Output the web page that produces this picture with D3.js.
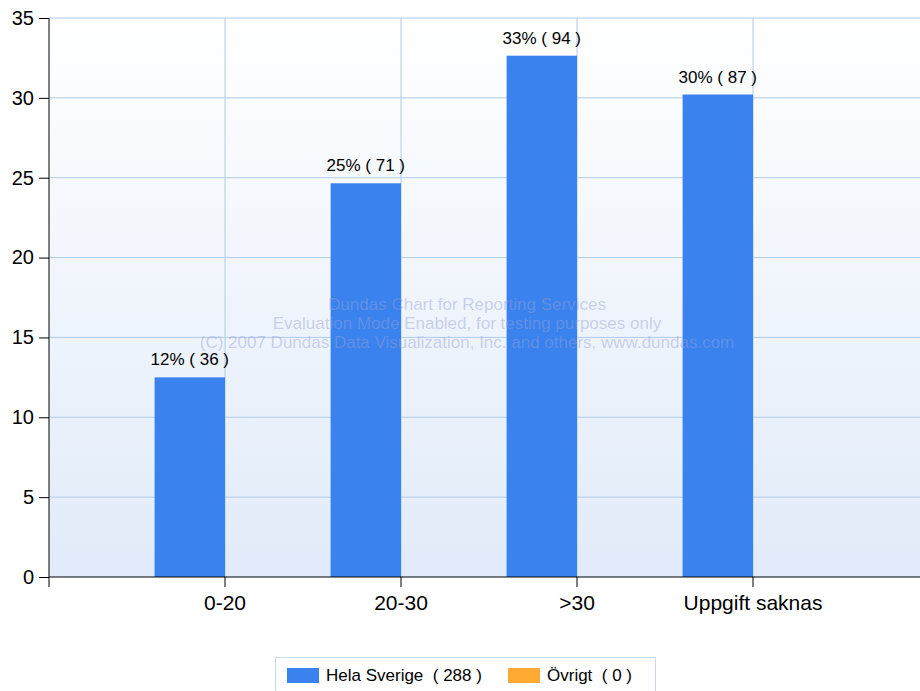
<!DOCTYPE html>
<html><head><meta charset="utf-8">
<script src="https://cdn.jsdelivr.net/npm/d3@7"></script>
<style>body{margin:0;background:#fff;font-family:Arial,"Liberation Sans",sans-serif}</style>
</head><body><svg id="c" width="920" height="691"></svg>
<script>
const categories = ["0-20","20-30",">30","Uppgift saknas"];
const counts = [36, 71, 94, 87];
const percents = [12.5, 24.65, 32.64, 30.21];
const otherValues = [0, 0, 0, 0];
const pctLabels = ["12%","25%","33%","30%"];
const yTicks = [0,5,10,15,20,25,30,35];
const legendItems = [{name:"Hela Sverige", total:288, color:"#3a82ee"},{name:"Övrigt", total:0, color:"#ffab33"}];

const svg = d3.select("#c");
const L=49, R=929, T=18, B=577;
const x = d3.scaleLinear().domain([0,5]).range([L,R]);
const y = d3.scaleLinear().domain([0,35]).range([B,T]);

const defs = svg.append("defs");
const g = defs.append("linearGradient").attr("id","bg").attr("x1",0).attr("y1",0).attr("x2",0).attr("y2",1);
g.append("stop").attr("offset","0%").attr("stop-color","#ffffff");
g.append("stop").attr("offset","100%").attr("stop-color","#e1ebf9");
defs.append("clipPath").attr("id","clip").append("rect").attr("x",L).attr("y",T-1).attr("width",920-L).attr("height",B-T+2);

svg.append("rect").attr("x",L).attr("y",T).attr("width",920-L).attr("height",B-T).attr("fill","url(#bg)");

const grid = svg.append("g").attr("clip-path","url(#clip)");
grid.selectAll("line.h").data(yTicks.filter(d=>d>0)).join("line")
  .attr("x1",L).attr("x2",920).attr("y1",d=>y(d)).attr("y2",d=>y(d))
  .attr("stroke","#b0cce8").attr("stroke-width",1);
grid.selectAll("line.v").data(categories).join("line")
  .attr("x1",(d,i)=>x(i+1)).attr("x2",(d,i)=>x(i+1)).attr("y1",T).attr("y2",B)
  .attr("stroke","#b0cce8").attr("stroke-width",1);

const bw = x(0.4)-x(0);
svg.append("g").selectAll("rect").data(percents).join("rect")
  .attr("x",(d,i)=>x(i+1)-bw).attr("width",bw)
  .attr("y",d=>y(d)).attr("height",d=>y(0)-y(d)).attr("fill",legendItems[0].color);
svg.append("g").selectAll("rect").data(otherValues).join("rect")
  .attr("x",(d,i)=>x(i+1)).attr("width",bw)
  .attr("y",d=>y(d)).attr("height",d=>y(0)-y(d)).attr("fill",legendItems[1].color);

svg.append("g").selectAll("text").data(percents).join("text")
  .attr("x",(d,i)=>x(i+1)-bw/2).attr("y",d=>y(d)-12)
  .attr("text-anchor","middle").attr("font-size",17).attr("fill","#000")
  .text((d,i)=>pctLabels[i]+" ( "+counts[i]+" )");

// watermark
const wm = ["Dundas Chart for Reporting Services","Evaluation Mode Enabled, for testing purposes only","(C) 2007 Dundas Data Visualization, Inc. and others, www.dundas.com"];
svg.append("g").selectAll("text").data(wm).join("text")
  .attr("x",467).attr("y",(d,i)=>310+i*19).attr("text-anchor","middle")
  .attr("font-size",17).attr("fill","rgba(150,160,215,0.45)").text(d=>d);

// axes
const ya = svg.append("g").attr("transform",`translate(${L},0)`)
  .call(d3.axisLeft(y).tickValues(yTicks).tickSize(10).tickPadding(5).tickFormat(d3.format("d")));
ya.select(".domain").attr("d",`M0,${T}V${B}`).attr("stroke","#000");
ya.selectAll(".tick line").attr("stroke","#000");
ya.selectAll(".tick text").attr("font-size",20).attr("font-family","Arial,'Liberation Sans',sans-serif").attr("fill","#000");

const xa = svg.append("g").attr("transform",`translate(0,${B})`);
xa.append("line").attr("x1",L).attr("x2",920).attr("y1",0).attr("y2",0).attr("stroke","#000");
xa.selectAll("line.t").data([0,1,2,3,4]).join("line")
  .attr("x1",d=>x(d)).attr("x2",d=>x(d)).attr("y1",0).attr("y2",10).attr("stroke","#000");
xa.selectAll("text").data(categories).join("text")
  .attr("x",(d,i)=>x(i+1)).attr("y",33).attr("text-anchor","middle")
  .attr("font-size",21).attr("fill","#000").text(d=>d);

// legend
const lg = svg.append("g");
lg.append("rect").attr("x",275.5).attr("y",657.5).attr("width",380).attr("height",40)
  .attr("fill","#ffffff").attr("stroke","#c4daf0");
const lx = [287, 508];
legendItems.forEach((it,i)=>{
  lg.append("rect").attr("x",lx[i]).attr("y",668).attr("width",32).attr("height",15).attr("fill",it.color);
  lg.append("text").attr("x",lx[i]+39).attr("y",681).attr("font-size",17).attr("fill","#000")
    .text(it.name+"  ( "+it.total+" )").attr("xml:space","preserve").style("white-space","pre");
});
</script></body></html>
